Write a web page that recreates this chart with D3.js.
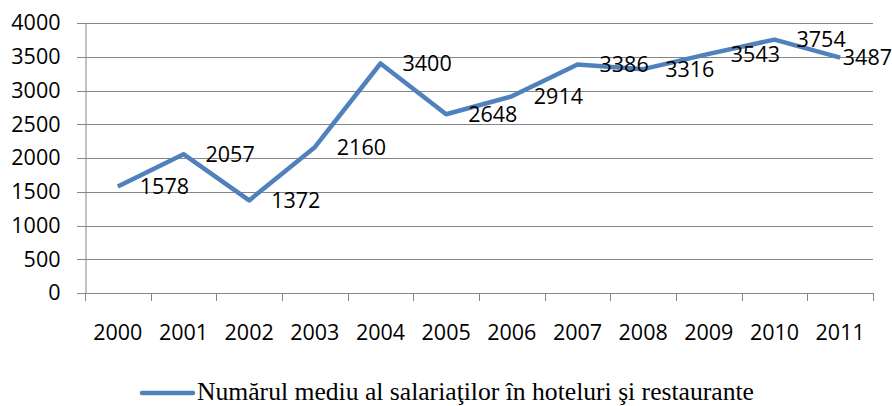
<!DOCTYPE html>
<html>
<head>
<meta charset="utf-8">
<script src="https://cdn.jsdelivr.net/npm/d3@7"></script>
<style>
  body { margin: 0; background: #fff; }
  svg { display: block; }
  .num { font-family: "Open Sans", sans-serif; font-size: 21.5px; fill: #000; }
  .legend { font-family: "Liberation Serif", "Times New Roman", serif; font-size: 25px; fill: #000; }
</style>
</head>
<body>
<div id="chart"></div>
<script>
// data
var years = ["2000", "2001", "2002", "2003", "2004", "2005", "2006", "2007", "2008", "2009", "2010", "2011"];
var salariati = [1578, 2057, 1372, 2160, 3400, 2648, 2914, 3386, 3316, 3543, 3754, 3487];
var yTicks = [0, 500, 1000, 1500, 2000, 2500, 3000, 3500, 4000];
var seriesName = "Numărul mediu al salariaţilor în hoteluri şi restaurante";

var width = 892, height = 406;
var margin = {top: 23, right: 19, bottom: 113, left: 85};
var lineColor = "#4f81bd", gridColor = "#868686";

var svg = d3.select("#chart").append("svg")
    .attr("width", width)
    .attr("height", height);

var x = d3.scaleBand()
    .domain(years)
    .range([margin.left, width - margin.right])
    .padding(0);

var y = d3.scaleLinear()
    .domain([0, 4000])
    .range([height - margin.bottom, margin.top]);

// horizontal gridlines (they also make the y ticks)
svg.append("g")
    .selectAll("line")
    .data(yTicks)
    .enter().append("line")
    .attr("x1", margin.left - 8)
    .attr("x2", width - margin.right)
    .attr("y1", function (d) { return Math.round(y(d)) + 0.5; })
    .attr("y2", function (d) { return Math.round(y(d)) + 0.5; })
    .style("stroke", gridColor)
    .style("stroke-width", 1);

// y axis
var yAxis = svg.append("g")
    .attr("transform", "translate(" + (margin.left + 0.5) + ",0)")
    .call(d3.axisLeft(y).tickValues(yTicks).tickSize(8).tickPadding(17).tickFormat(d3.format("d")));
yAxis.select(".domain").style("stroke", gridColor);
yAxis.selectAll(".tick line").remove();
yAxis.selectAll("text").attr("class", "num").attr("fill", null);

// x axis: labels at band centres, ticks at band boundaries
var xAxis = svg.append("g")
    .attr("transform", "translate(0," + (Math.round(y(0)) + 0.5) + ")")
    .call(d3.axisBottom(x).tickSize(0).tickPadding(31));
xAxis.select(".domain").remove();
xAxis.selectAll("text").attr("class", "num").attr("fill", null);

var bounds = years.map(function (d) { return x(d); }).concat([x(years[years.length - 1]) + x.bandwidth()]);
svg.append("line")
    .attr("x1", margin.left).attr("x2", width - margin.right)
    .attr("y1", Math.round(y(0)) + 0.5).attr("y2", Math.round(y(0)) + 0.5)
    .style("stroke", gridColor);
svg.append("g")
    .selectAll("line")
    .data(bounds)
    .enter().append("line")
    .attr("x1", function (d) { return Math.round(d) + 0.5; })
    .attr("x2", function (d) { return Math.round(d) + 0.5; })
    .attr("y1", Math.round(y(0)))
    .attr("y2", Math.round(y(0)) + 8)
    .style("stroke", gridColor);

// the series line
var line = d3.line()
    .x(function (d, i) { return x(years[i]) + x.bandwidth() / 2; })
    .y(function (d) { return y(d); });

svg.append("path")
    .datum(salariati)
    .attr("d", line)
    .style("fill", "none")
    .style("stroke", lineColor)
    .style("stroke-width", 4.5)
    .style("stroke-linejoin", "round");

// data labels, right of each point (kept inside the picture)
svg.append("g")
    .selectAll("text")
    .data(salariati)
    .enter().append("text")
    .attr("class", "num")
    .attr("x", function (d, i) { return x(years[i]) + x.bandwidth() / 2 + 22; })
    .attr("y", function (d) { return y(d); })
    .attr("dy", "0.36em")
    .text(function (d) { return d; })
    .each(function () {
        var w = this.getComputedTextLength();
        var x0 = +this.getAttribute("x");
        if (x0 + w > width) this.setAttribute("x", width - w);
    });

// legend
var legend = svg.append("g");
legend.append("line")
    .attr("x1", 142).attr("x2", 193)
    .attr("y1", 393).attr("y2", 393)
    .style("stroke", lineColor)
    .style("stroke-width", 4.5)
    .style("stroke-linecap", "round");
legend.append("text")
    .attr("class", "legend")
    .attr("x", 197)
    .attr("y", 400)
    .attr("textLength", 557)
    .attr("lengthAdjust", "spacingAndGlyphs")
    .text(seriesName);
</script>
</body>
</html>
